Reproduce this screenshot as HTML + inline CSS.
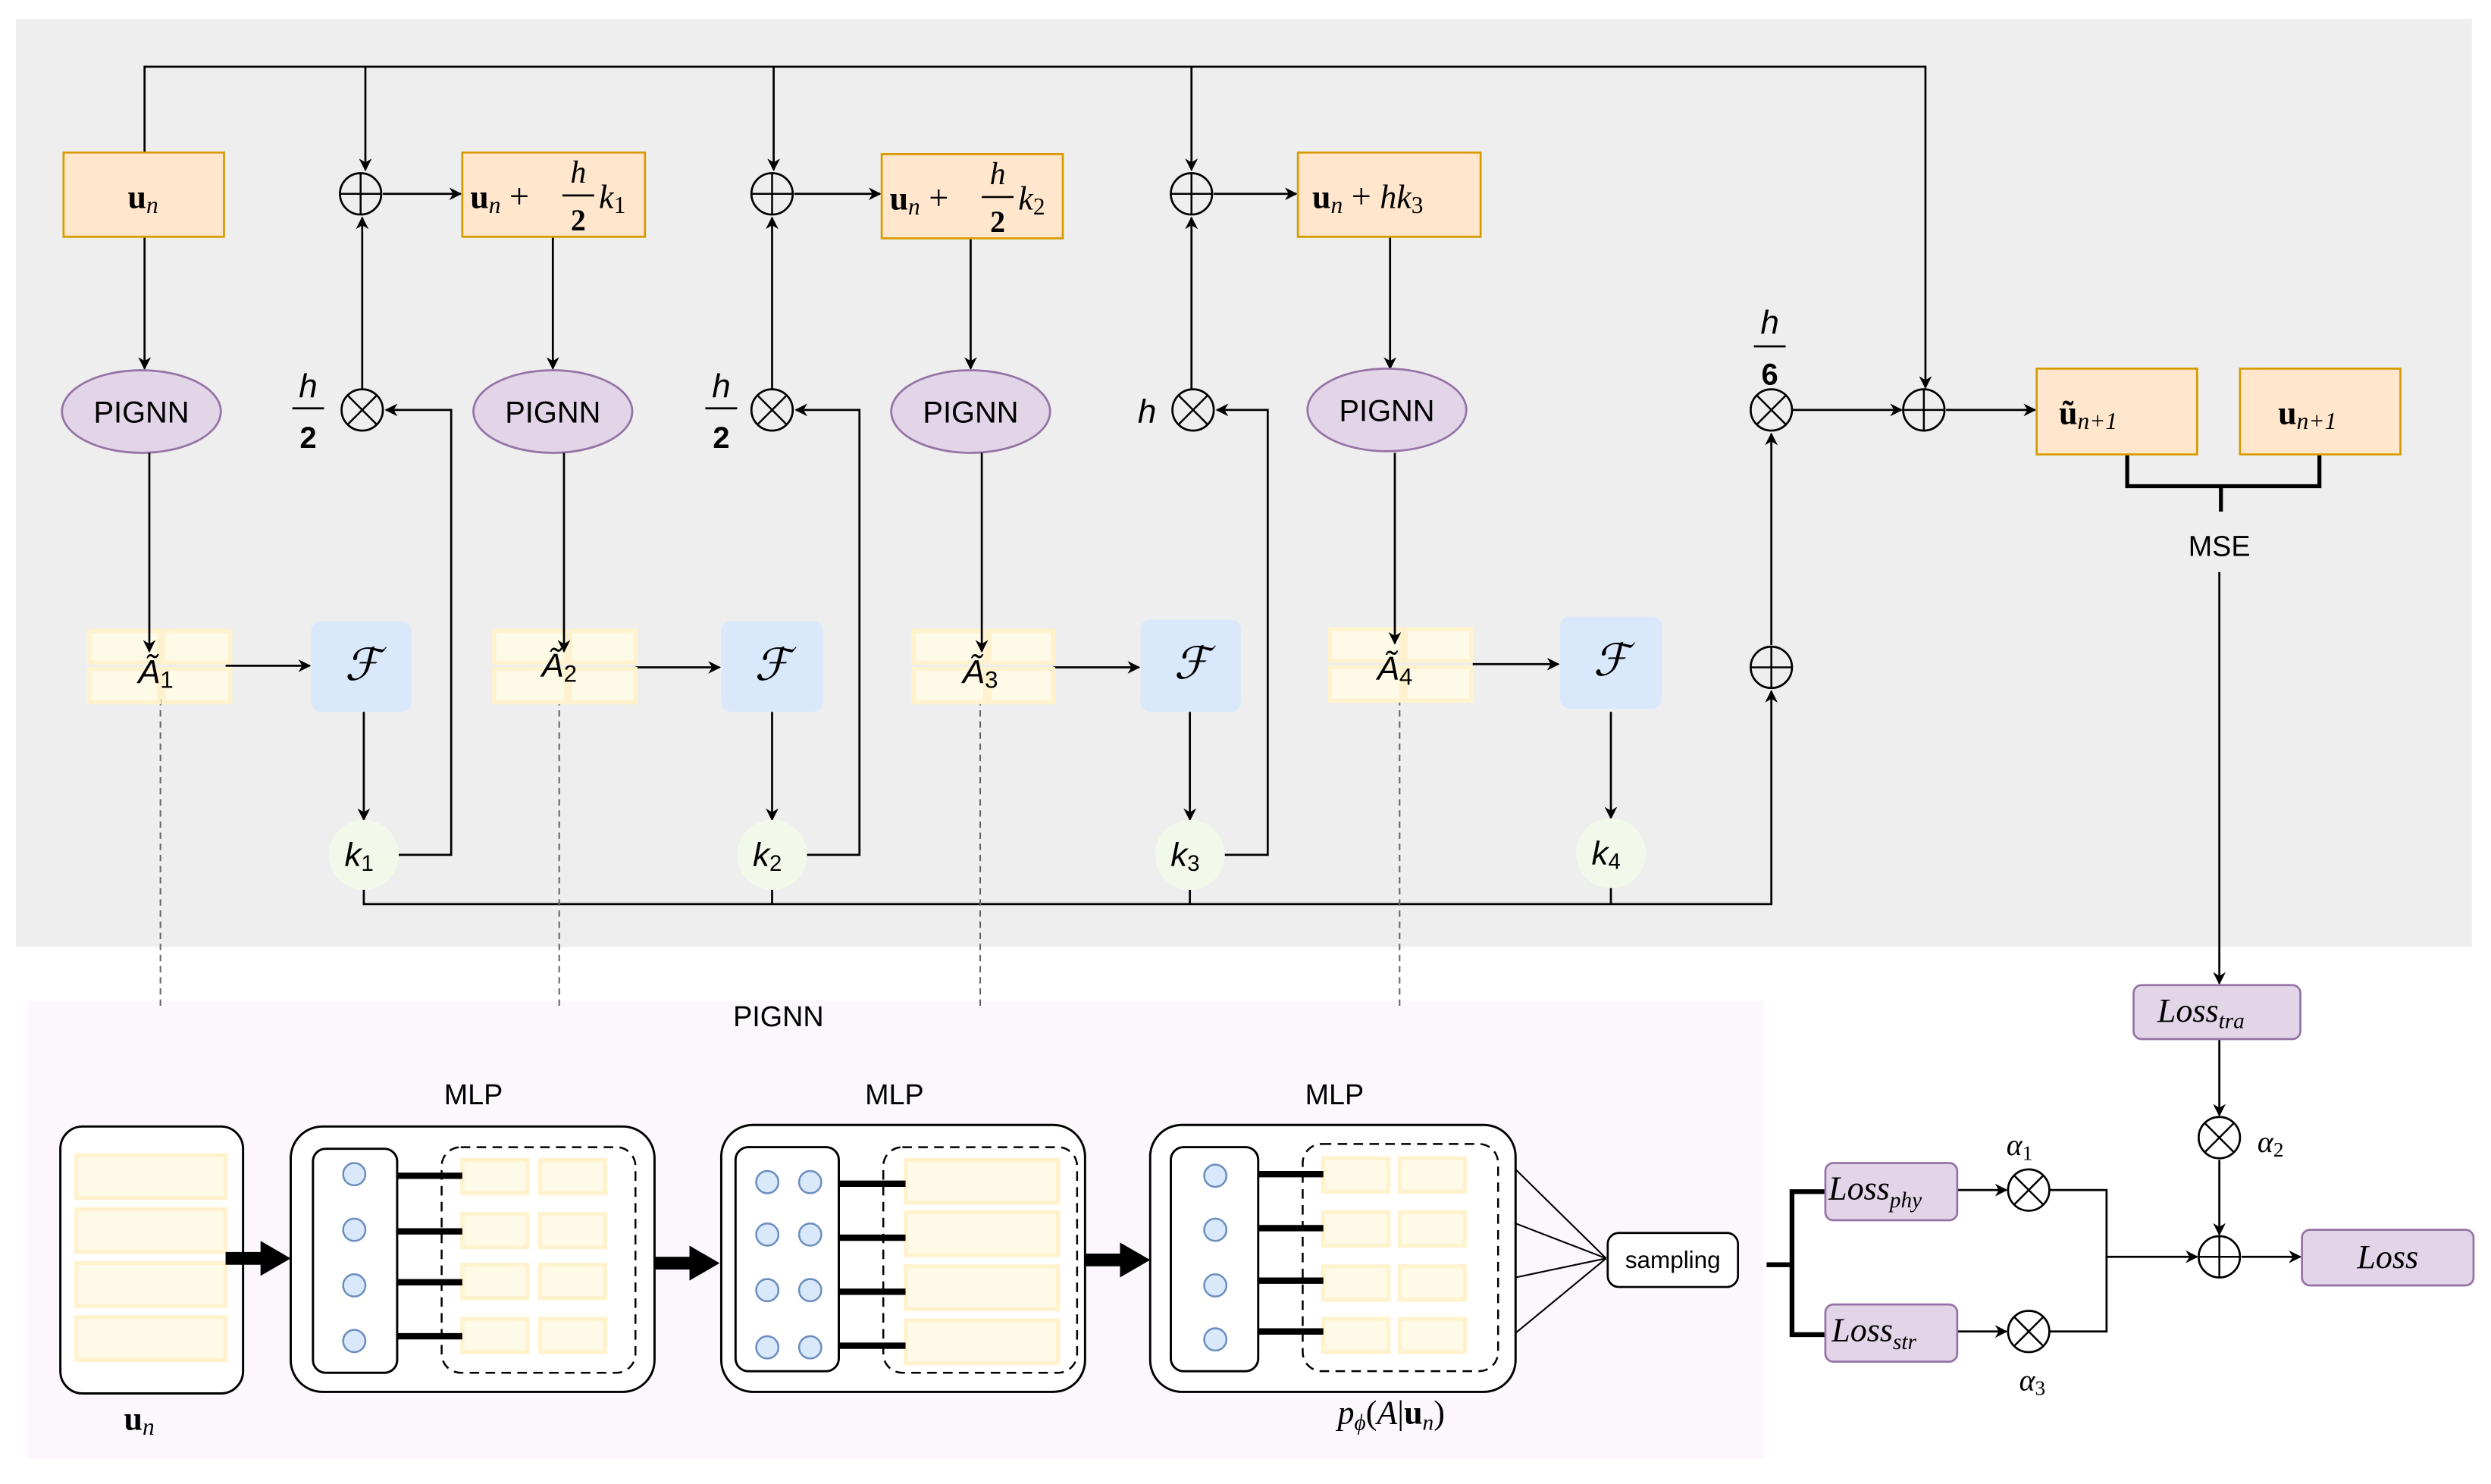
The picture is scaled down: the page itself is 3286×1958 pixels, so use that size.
<!DOCTYPE html>
<html><head><meta charset="utf-8"><style>
html,body{margin:0;padding:0;background:#fff}
svg{display:block}
text{font-family:"Liberation Sans",sans-serif}
.m{font-family:"Liberation Serif",serif;font-style:italic}
.b{font-family:"Liberation Serif",serif;font-weight:bold}
</style></head><body>
<svg width="3286" height="1958" viewBox="0 0 1568 934" preserveAspectRatio="none" xmlns="http://www.w3.org/2000/svg">
<defs>
<marker id="a" viewBox="0 0 10 10" refX="9" refY="5" markerWidth="8" markerHeight="8" orient="auto" markerUnits="userSpaceOnUse"><path d="M0,0 L10,5 L0,10 L3,5z" fill="#000"/></marker>
<g id="plus"><circle r="13" fill="none" stroke="#000" stroke-width="1.3"/><path d="M-13,0H13M0,-13V13" stroke="#000" stroke-width="1.2"/></g>
<g id="times"><circle r="13" fill="none" stroke="#000" stroke-width="1.3"/><path d="M-9,-9L9,9M9,-9L-9,9" stroke="#000" stroke-width="1.2"/></g>
</defs>
<rect x="10" y="12" width="1546" height="584" fill="#eeeeee"/>
<rect x="17" y="630" width="1093" height="288" fill="#fcf7fd"/>

<g fill="none" stroke="#000" stroke-width="1.3">
<path d="M91,96V42H1212V244" marker-end="url(#a)"/>
<path d="M230,42V107" marker-end="url(#a)"/>
<path d="M487,42V107" marker-end="url(#a)"/>
<path d="M750,42V107" marker-end="url(#a)"/>
<path d="M241,122H290" marker-end="url(#a)"/>
<path d="M500,122H554" marker-end="url(#a)"/>
<path d="M764,122H816" marker-end="url(#a)"/>
<path d="M91,149V232" marker-end="url(#a)"/>
<path d="M348,149V232" marker-end="url(#a)"/>
<path d="M611,150V232" marker-end="url(#a)"/>
<path d="M875,149V232" marker-end="url(#a)"/>
<path d="M228,245V137" marker-end="url(#a)"/>
<path d="M486,245V137" marker-end="url(#a)"/>
<path d="M750,245V137" marker-end="url(#a)"/>
<path d="M142,419H195" marker-end="url(#a)"/>
<path d="M400,420H453" marker-end="url(#a)"/>
<path d="M663,420H717" marker-end="url(#a)"/>
<path d="M927,418H981" marker-end="url(#a)"/>
<path d="M229,448V516" marker-end="url(#a)"/>
<path d="M486,448V516" marker-end="url(#a)"/>
<path d="M749,448V516" marker-end="url(#a)"/>
<path d="M1014,448V515" marker-end="url(#a)"/>
<path d="M250,538H284V258H243" marker-end="url(#a)"/>
<path d="M507,538H541V258H501" marker-end="url(#a)"/>
<path d="M770,538H798V258H766" marker-end="url(#a)"/>
<path d="M229,559V569H1115V435" marker-end="url(#a)"/>
<path d="M486,559V569M749,559V569M1014,558V569"/>
<path d="M1115,406V273" marker-end="url(#a)"/>
<path d="M1128,258H1197" marker-end="url(#a)"/>
<path d="M1225,258H1281" marker-end="url(#a)"/>
<path d="M1339,286V306H1460V286M1398,306V322" stroke-width="2.5"/>
<path d="M1397,360V619" marker-end="url(#a)"/>
<path d="M1397,654V702" marker-end="url(#a)"/>
<path d="M1397,730V777" marker-end="url(#a)"/>
<path d="M1411,791H1448" marker-end="url(#a)"/>
<path d="M1326,791H1383" marker-end="url(#a)"/>
<path d="M1290,749H1326V838H1290"/>
<path d="M1232,749H1263" marker-end="url(#a)"/>
<path d="M1232,838H1263" marker-end="url(#a)"/>
<path d="M1112,796H1128M1149,750H1128V840H1149" stroke-width="3"/>
<path d="M954,736L1011,792M954,770L1011,792M954,804L1011,792M954,839L1011,792" stroke-width="1"/>
</g>
<g stroke="#666" stroke-width="1" stroke-dasharray="4,3">
<path d="M101,440V635M352,440V635M617,440V635M881,440V635"/>
</g>

<g fill="#ffe6cc" stroke="#d79b00" stroke-width="1.3">
<rect x="40" y="96" width="101" height="53"/>
<rect x="291" y="96" width="115" height="53"/>
<rect x="555" y="97" width="114" height="53"/>
<rect x="817" y="96" width="115" height="53"/>
<rect x="1282" y="232" width="101" height="54"/>
<rect x="1410" y="232" width="101" height="54"/>
</g>
<text x="90" y="131" class="b" font-size="21" text-anchor="middle">u<tspan class="m" font-weight="normal" font-size="15" dy="3">n</tspan></text>
<text x="296" y="131" class="b" font-size="21">u<tspan class="m" font-weight="normal" font-size="15" dy="3">n</tspan><tspan dy="-3" font-weight="normal" font-family="Liberation Serif" font-size="22"> + </tspan></text>
<text x="364" y="115" class="m" font-size="20" text-anchor="middle">h</text><path d="M354,123H374" stroke="#000" stroke-width="1.3"/><text x="364" y="145" class="b" font-size="19" text-anchor="middle">2</text>
<text x="377" y="131" class="m" font-size="21">k<tspan font-style="normal" font-size="15" dy="3">1</tspan></text>
<text x="560" y="132" class="b" font-size="21">u<tspan class="m" font-weight="normal" font-size="15" dy="3">n</tspan><tspan dy="-3" font-weight="normal" font-family="Liberation Serif" font-size="22"> + </tspan></text>
<text x="628" y="116" class="m" font-size="20" text-anchor="middle">h</text><path d="M618,124H638" stroke="#000" stroke-width="1.3"/><text x="628" y="146" class="b" font-size="19" text-anchor="middle">2</text>
<text x="641" y="132" class="m" font-size="21">k<tspan font-style="normal" font-size="15" dy="3">2</tspan></text>
<text x="826" y="131" class="b" font-size="21">u<tspan class="m" font-weight="normal" font-size="15" dy="3">n</tspan><tspan dy="-3" font-weight="normal" font-family="Liberation Serif" font-size="22"> + </tspan><tspan class="m" font-weight="normal">hk</tspan><tspan font-weight="normal" font-size="15" dy="3">3</tspan></text>
<text x="1296" y="267" class="b" font-size="21">ũ<tspan class="m" font-weight="normal" font-size="15" dy="3">n+1</tspan></text>
<text x="1434" y="267" class="b" font-size="21">u<tspan class="m" font-weight="normal" font-size="15" dy="3">n+1</tspan></text>
<text x="1397" y="350" font-size="18" text-anchor="middle">MSE</text>

<use href="#plus" x="227" y="122"/><use href="#plus" x="486" y="122"/><use href="#plus" x="750" y="122"/>
<use href="#plus" x="1211" y="258"/><use href="#plus" x="1115" y="420"/><use href="#plus" x="1397" y="791"/>
<use href="#times" x="228" y="258"/><use href="#times" x="486" y="258"/><use href="#times" x="751" y="258"/>
<use href="#times" x="1115" y="258"/><use href="#times" x="1397" y="716"/><use href="#times" x="1277" y="749"/><use href="#times" x="1277" y="838"/>

<g class="m" font-size="21" text-anchor="middle">
<text x="194" y="250">h</text><text x="194" y="282" font-style="normal" font-weight="bold" font-size="19">2</text>
<text x="454" y="250">h</text><text x="454" y="282" font-style="normal" font-weight="bold" font-size="19">2</text>
<text x="722" y="266">h</text>
<text x="1114" y="210">h</text><text x="1114" y="242" font-style="normal" font-weight="bold" font-size="19">6</text>
</g>
<path d="M184,257H204M444,257H464M1104,218H1124" stroke="#000" stroke-width="1.3"/>

<g fill="#e1d5e7" stroke="#9673a6" stroke-width="1.3">
<ellipse cx="89" cy="259" rx="50" ry="26"/><ellipse cx="348" cy="259" rx="50" ry="26"/>
<ellipse cx="611" cy="259" rx="50" ry="26"/><ellipse cx="873" cy="258" rx="50" ry="26"/>
<rect x="1343" y="620" width="105" height="34" rx="5"/>
<rect x="1149" y="732" width="83" height="36" rx="5"/>
<rect x="1149" y="821" width="83" height="36" rx="5"/>
<rect x="1449" y="774" width="108" height="35" rx="5"/>
</g>
<g font-size="19" text-anchor="middle">
<text x="89" y="266">PIGNN</text><text x="348" y="266">PIGNN</text><text x="611" y="266">PIGNN</text><text x="873" y="265">PIGNN</text>
</g>
<text x="1358" y="643" class="m" font-size="21">Loss<tspan font-size="14" dy="4">tra</tspan></text>
<text x="1151" y="755" class="m" font-size="21">Loss<tspan font-size="14" dy="5">phy</tspan></text>
<text x="1153" y="844" class="m" font-size="21">Loss<tspan font-size="14" dy="5">str</tspan></text>
<text x="1503" y="798" class="m" font-size="21" text-anchor="middle">Loss</text>
<text x="1263" y="727" class="m" font-size="19">α<tspan font-style="normal" font-size="13" dy="3">1</tspan></text>
<text x="1421" y="725" class="m" font-size="19">α<tspan font-style="normal" font-size="13" dy="3">2</tspan></text>
<text x="1271" y="875" class="m" font-size="19">α<tspan font-style="normal" font-size="13" dy="3">3</tspan></text>

<g fill="#fefae8" stroke="#fff2cc" stroke-width="2.5">
<rect x="56" y="397" width="44" height="20"/><rect x="103" y="397" width="42" height="20"/><rect x="56" y="421" width="44" height="21"/><rect x="103" y="421" width="42" height="21"/>
<rect x="311" y="397" width="45" height="20"/><rect x="359" y="397" width="41" height="20"/><rect x="311" y="421" width="45" height="21"/><rect x="359" y="421" width="41" height="21"/>
<rect x="575" y="397" width="45" height="20"/><rect x="623" y="397" width="40" height="20"/><rect x="575" y="421" width="45" height="21"/><rect x="623" y="421" width="40" height="21"/>
<rect x="837" y="396" width="45" height="20"/><rect x="885" y="396" width="41" height="20"/><rect x="837" y="420" width="45" height="21"/><rect x="885" y="420" width="41" height="21"/>
</g>
<g fill="none" stroke="#000" stroke-width="1.3">
<path d="M94,285V410" marker-end="url(#a)"/>
<path d="M355,285V410" marker-end="url(#a)"/>
<path d="M618,285V410" marker-end="url(#a)"/>
<path d="M878,285V405" marker-end="url(#a)"/>
</g>
<g class="m" font-size="21" text-anchor="middle">
<text x="98" y="430">Ã<tspan font-style="normal" font-size="15" dy="3">1</tspan></text>
<text x="352" y="426">Ã<tspan font-style="normal" font-size="15" dy="3">2</tspan></text>
<text x="617" y="430">Ã<tspan font-style="normal" font-size="15" dy="3">3</tspan></text>
<text x="878" y="428">Ã<tspan font-style="normal" font-size="15" dy="3">4</tspan></text>
</g>
<g fill="#dae8fc">
<rect x="196" y="391" width="63" height="57" rx="6"/><rect x="454" y="391" width="64" height="57" rx="6"/>
<rect x="718" y="390" width="63" height="58" rx="6"/><rect x="982" y="388" width="64" height="58" rx="6"/>
</g>
<g font-family="Liberation Serif" font-style="italic" font-size="28" text-anchor="middle">
<text x="228" y="428">ℱ</text><text x="486" y="428">ℱ</text><text x="750" y="427">ℱ</text><text x="1014" y="425">ℱ</text>
</g>
<g fill="#f3f9ea">
<circle cx="229" cy="538" r="22"/><circle cx="486" cy="538" r="22"/><circle cx="749" cy="538" r="22"/><circle cx="1014" cy="537" r="22"/>
</g>
<g class="m" font-size="21" text-anchor="middle">
<text x="226" y="545">k<tspan font-style="normal" font-size="14" dy="3">1</tspan></text>
<text x="483" y="545">k<tspan font-style="normal" font-size="14" dy="3">2</tspan></text>
<text x="746" y="545">k<tspan font-style="normal" font-size="14" dy="3">3</tspan></text>
<text x="1011" y="544">k<tspan font-style="normal" font-size="14" dy="3">4</tspan></text>
</g>

<text x="490" y="646" font-size="18" text-anchor="middle">PIGNN</text>
<g font-size="18" text-anchor="middle"><text x="298" y="695">MLP</text><text x="563" y="695">MLP</text><text x="840" y="695">MLP</text></g>
<g fill="#fff" stroke="#000" stroke-width="1.4">
<rect x="38" y="709" width="115" height="168" rx="14"/>
<rect x="183" y="709" width="229" height="167" rx="20"/>
<rect x="454" y="708" width="229" height="168" rx="20"/>
<rect x="724" y="708" width="230" height="168" rx="20"/>
<rect x="197" y="723" width="53" height="141" rx="8"/>
<rect x="463" y="722" width="65" height="141" rx="8"/>
<rect x="737" y="722" width="55" height="141" rx="8"/>
</g>
<g fill="none" stroke="#000" stroke-width="1.2" stroke-dasharray="6,4">
<rect x="278" y="722" width="122" height="142" rx="12"/>
<rect x="556" y="722" width="122" height="142" rx="12"/>
<rect x="820" y="720" width="123" height="143" rx="12"/>
</g>
<g fill="#fefae8" stroke="#fff2cc" stroke-width="2.5">
<rect x="48" y="727" width="94" height="27"/><rect x="48" y="761" width="94" height="27"/><rect x="48" y="795" width="94" height="27"/><rect x="48" y="829" width="94" height="27"/>
<rect x="291" y="730" width="41" height="21"/><rect x="340" y="730" width="41" height="21"/>
<rect x="291" y="764" width="41" height="21"/><rect x="340" y="764" width="41" height="21"/>
<rect x="291" y="796" width="41" height="21"/><rect x="340" y="796" width="41" height="21"/>
<rect x="291" y="830" width="41" height="21"/><rect x="340" y="830" width="41" height="21"/>
<rect x="570" y="730" width="96" height="27"/><rect x="570" y="763" width="96" height="27"/><rect x="570" y="797" width="96" height="27"/><rect x="570" y="831" width="96" height="27"/>
<rect x="833" y="729" width="41" height="21"/><rect x="881" y="729" width="41" height="21"/>
<rect x="833" y="763" width="41" height="21"/><rect x="881" y="763" width="41" height="21"/>
<rect x="833" y="797" width="41" height="21"/><rect x="881" y="797" width="41" height="21"/>
<rect x="833" y="830" width="41" height="21"/><rect x="881" y="830" width="41" height="21"/>
</g>
<g fill="#dae8fc" stroke="#6c8ebf" stroke-width="1.2">
<circle cx="223" cy="739" r="7"/><circle cx="223" cy="774" r="7"/><circle cx="223" cy="809" r="7"/><circle cx="223" cy="844" r="7"/>
<circle cx="483" cy="744" r="7"/><circle cx="510" cy="744" r="7"/><circle cx="483" cy="777" r="7"/><circle cx="510" cy="777" r="7"/>
<circle cx="483" cy="812" r="7"/><circle cx="510" cy="812" r="7"/><circle cx="483" cy="848" r="7"/><circle cx="510" cy="848" r="7"/>
<circle cx="765" cy="740" r="7"/><circle cx="765" cy="774" r="7"/><circle cx="765" cy="809" r="7"/><circle cx="765" cy="843" r="7"/>
</g>
<g stroke="#000" stroke-width="4">
<path d="M250,740H291M250,775H291M250,807H291M250,841H291"/>
<path d="M528,745H570M528,779H570M528,813H570M528,847H570"/>
<path d="M792,739H833M792,773H833M792,806H833M792,838H833"/>
</g>
<g fill="#000">
<path d="M142,788H164V781L183,792L164,803V796H142z"/>
<path d="M412,791H434V784L453,795L434,806V799H412z"/>
<path d="M683,789H705V782L724,793L705,804V797H683z"/>
</g>
<rect x="1012" y="776" width="82" height="34" rx="7" fill="#fff" stroke="#000" stroke-width="1.3"/>
<text x="1053" y="798" font-size="15" text-anchor="middle">sampling</text>
<text x="78" y="900" class="b" font-size="21">u<tspan class="m" font-weight="normal" font-size="15" dy="3">n</tspan></text>
<text x="842" y="896" class="m" font-size="21">p<tspan font-size="14" dy="4">ϕ</tspan><tspan dy="-4" font-style="normal">(</tspan>A<tspan font-style="normal">|</tspan><tspan font-style="normal" font-weight="bold">u</tspan><tspan font-size="14" dy="4">n</tspan><tspan dy="-4" font-style="normal">)</tspan></text>
</svg>
</body></html>
